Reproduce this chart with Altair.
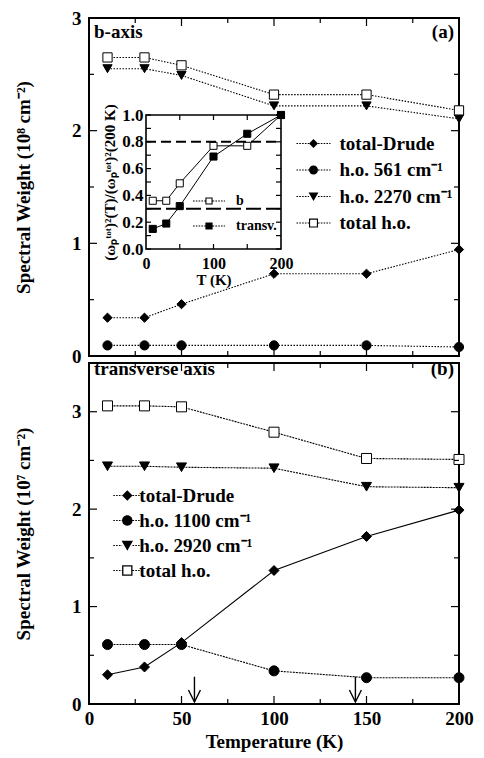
import altair as alt
import pandas as pd

# ---------------- data ----------------
T = [10, 30, 50, 100, 150, 200]

# panel (a): b-axis, 10^8 cm^-2
a_names = ["total-Drude", "h.o. 561 cm⁻¹", "h.o. 2270 cm⁻¹", "total h.o."]
a_total_drude = [0.34, 0.34, 0.46, 0.73, 0.73, 0.945]
a_ho_561 = [0.094, 0.094, 0.094, 0.094, 0.094, 0.08]
a_ho_2270 = [2.55, 2.55, 2.49, 2.22, 2.22, 2.105]
a_total_ho = [2.65, 2.65, 2.58, 2.32, 2.32, 2.18]

# panel (b): transverse axis, 10^7 cm^-2
b_names = ["total-Drude", "h.o. 1100 cm⁻¹", "h.o. 2920 cm⁻¹", "total h.o."]
b_total_drude = [0.30, 0.38, 0.63, 1.37, 1.72, 1.99]
b_ho_1100 = [0.61, 0.61, 0.61, 0.34, 0.27, 0.27]
b_ho_2920 = [2.44, 2.44, 2.43, 2.42, 2.23, 2.22]
b_total_ho = [3.06, 3.06, 3.05, 2.79, 2.52, 2.51]

# inset: normalised plasma frequency squared
i_names = ["b", "transv."]
i_b = [0.36, 0.36, 0.49, 0.77, 0.77, 1.0]
i_transv = [0.15, 0.19, 0.32, 0.69, 0.86, 1.0]
i_levels = [0.8, 0.3]

# arrows in panel (b)
arrow_T = [57, 144]
arrow_top = [0.28, 0.28]
arrow_tip = [0.02, 0.02]

# tick values
x_major = [0, 50, 100, 150, 200]
x_minor = [25, 75, 125, 175]
y_major = [0, 1, 2, 3]
y_minor = [0.5, 1.5, 2.5]
i_y_ticks = [0.0, 0.1, 0.2, 0.3, 0.4, 0.5, 0.6, 0.7, 0.8, 0.9, 1.0]
i_x_ticks = [50, 100, 150]

FONT = "Liberation Serif"
W = 370
HA = 338
HB = 341

dfA = pd.DataFrame({"T": T * 4,
                    "v": a_total_drude + a_ho_561 + a_ho_2270 + a_total_ho,
                    "s": [n for n in a_names for _ in T]})
dfB = pd.DataFrame({"T": T * 4,
                    "v": b_total_drude + b_ho_1100 + b_ho_2920 + b_total_ho,
                    "s": [n for n in b_names for _ in T]})
dfI = pd.DataFrame({"T": T * 2, "v": i_b + i_transv,
                    "s": [n for n in i_names for _ in T]})

marker_shapes = ["diamond", "circle", "triangle-down", "square"]
marker_fills = ["black", "black", "black", "white"]


# ------------- legend symbol paths (line + marker) -------------
def dotted(x0, x1, dash, gap, h):
    out, x = [], x0
    while x < x1 - 1e-6:
        xe = min(x + dash, x1)
        out.append(f"M{x:.3f},{-h:.3f}H{xe:.3f}V{h:.3f}H{x:.3f}Z")
        x += dash + gap
    return "".join(out)


def line_path(L, dash, gap, h, m=1.0):
    return dotted(-L, -m, dash, gap, h) + dotted(m, L, dash, gap, h)


DIAMOND = "M0,-1L1,0L0,1L-1,0Z"
CIRCLE = "M1,0A1,1,0,1,1,-1,0A1,1,0,1,1,1,0Z"
TRI = "M-1.1,-0.9L1.1,-0.9L0,1Z"
SQ_FILLED = "M-1,-1H1V1H-1Z"


def sq_open(t):
    a = 1 - t
    return f"M-1,-1H1V1H-1ZM{-a},{-a}V{a}H{a}V{-a}Z"


def legend_paths(r, L_px, dash_px, gap_px, markers):
    L = L_px / r
    h = 0.55 / r
    ln = line_path(L, dash_px / r, gap_px / r, h)
    return [ln + mk for mk in markers]


def tick_rules(values, axis_ch, start, end):
    """inward frame ticks drawn as short rules between two data positions"""
    df = pd.DataFrame({"t": values})
    m = alt.Chart(df).mark_rule(color="black", strokeWidth=1.2)
    if axis_ch == "y":
        return m.encode(y=alt.Y("t:Q"), x=alt.datum(start), x2=alt.datum(end))
    return m.encode(x=alt.X("t:Q"), y=alt.datum(start), y2=alt.datum(end))


def frame_ticks(xmax, ymax, y_maj, y_min, px_x, px_y, maj=8, mnr=5):
    lays = []
    for vals, L in ((y_maj, maj), (y_min, mnr)):
        lays.append(tick_rules(vals, "y", 0, L * px_x))
        lays.append(tick_rules(vals, "y", xmax, xmax - L * px_x))
    for vals, L in ((x_major, maj), (x_minor, mnr)):
        lays.append(tick_rules(vals, "x", 0, L * px_y))
        lays.append(tick_rules(vals, "x", ymax, ymax - L * px_y))
    return lays


def main_panel(df, names, ymax, H, ytitle, x_axis, dash, legend_cfg, pt_size,
               label, tag, text_dy, extra):
    xs = alt.Scale(domain=[0, 200], nice=False, zero=False)
    ys = alt.Scale(domain=[0, ymax], nice=False, zero=False)
    X = alt.X("T:Q", scale=xs, axis=x_axis)
    Y = alt.Y("v:Q", scale=ys,
              axis=alt.Axis(values=y_major, format="d", ticks=False, domain=False,
                            grid=False, labelFlush=False, labelPadding=8,
                            labelFontSize=19, title=ytitle, titleFontSize=19,
                            titlePadding=38, orient="left"))
    base = alt.Chart(df)
    lines = []
    for n in names:
        d = dash[n]
        mk = base.transform_filter(alt.datum.s == n).mark_line(
            color="black", strokeWidth=1.1, **({"strokeDash": d} if d else {}))
        lines.append(mk.encode(x=X, y=Y))
    pts = base.mark_point(stroke="black", strokeWidth=1, opacity=1, fillOpacity=1,
                          size=pt_size).encode(
        x="T:Q", y="v:Q",
        shape=alt.Shape("s:N", scale=alt.Scale(domain=names, range=marker_shapes), legend=None),
        fill=alt.Fill("s:N", scale=alt.Scale(domain=names, range=marker_fills), legend=None))
    r, L_px, labelOffset, lx, ly, rowpad = legend_cfg
    leg = base.transform_filter("false").mark_point(
        filled=True, color="black", opacity=1, size=(2 * r) ** 2).encode(
        x="T:Q", y="v:Q",
        shape=alt.Shape("s:N", scale=alt.Scale(
            domain=names,
            range=legend_paths(r, L_px, 1.6, 1.2,
                               [DIAMOND, CIRCLE, TRI, sq_open(0.25)])),
            legend=alt.Legend(title=None, orient="none", legendX=lx, legendY=ly,
                              direction="vertical", symbolSize=(2 * r) ** 2,
                              symbolStrokeWidth=0, symbolOpacity=1,
                              symbolFillColor="black", labelFontSize=19,
                              labelOffset=labelOffset, rowPadding=rowpad, padding=0,
                              labelFont=FONT, labelFontWeight="bold",
                              labelColor="black")))
    lab = pd.DataFrame({"t": [label]})
    txt_l = alt.Chart(lab).mark_text(font=FONT, fontSize=19, fontWeight="bold",
                                     align="left", baseline="alphabetic", dx=5,
                                     dy=text_dy, color="black").encode(
        x=alt.datum(0), y=alt.datum(ymax), text="t:N")
    tg = pd.DataFrame({"t": [tag]})
    txt_r = alt.Chart(tg).mark_text(font=FONT, fontSize=19, fontWeight="bold",
                                    align="right", baseline="alphabetic", dx=-5,
                                    dy=text_dy, color="black").encode(
        x=alt.datum(200), y=alt.datum(ymax), text="t:N")
    ticks = frame_ticks(200, ymax, y_major, y_minor, 200 / W, ymax / H)
    layers = lines + [pts, leg, txt_l, txt_r] + ticks + extra
    return alt.layer(*layers).resolve_scale(shape="independent", fill="independent")


# ------------- inset -------------
IX0, IX1, IY0, IY1 = 57, 192, 231, 97
sx_in = alt.Scale(domain=[0, 200], range=[IX0, IX1], nice=False, zero=False)
sy_in = alt.Scale(domain=[0, 1], range=[IY0, IY1], nice=False, zero=False)
iX = alt.X("T:Q", scale=sx_in,
           axis=alt.Axis(orient="bottom", offset=-(HA - IY0), values=[0, 100, 200],
                         ticks=False, domain=False, grid=False, labelFlush=False,
                         labelPadding=6, labelFontSize=16,
                         title="T (K)", titleFontSize=15, titlePadding=1))
iY = alt.Y("v:Q", scale=sy_in,
           axis=alt.Axis(orient="left", offset=-IX0, values=[0, 0.2, 0.4, 0.6, 0.8, 1.0],
                         format=".1f", ticks=False, domain=False, grid=False,
                         labelFlush=False, labelPadding=3, labelFontSize=17,
                         title="(ωₚᵗᵒᵗ)²(T)/(ωₚᵗᵒᵗ)²(200 K)", titleFontSize=15,
                         titlePadding=4))
ibase = alt.Chart(dfI)
i_lines = ibase.mark_line(color="black", strokeWidth=1).encode(x=iX, y=iY, detail="s:N")
i_pts = ibase.mark_point(stroke="black", strokeWidth=1, opacity=1, fillOpacity=1,
                         size=50, shape="square").encode(
    x="T:Q", y="v:Q",
    fill=alt.Fill("s:N", scale=alt.Scale(domain=i_names, range=["white", "black"]),
                  legend=None))
ir = 3.6
i_leg = ibase.transform_filter("false").mark_point(
    filled=True, color="black", opacity=1, size=(2 * ir) ** 2).encode(
    x="T:Q", y="v:Q",
    shape=alt.Shape("s:N", scale=alt.Scale(
        domain=i_names,
        range=legend_paths(ir, 16, 1.6, 1.2, [sq_open(0.3), SQ_FILLED])),
        legend=alt.Legend(title=None, orient="none", legendX=113, legendY=176,
                          direction="vertical", symbolSize=(2 * ir) ** 2,
                          symbolStrokeWidth=0, symbolOpacity=1, symbolFillColor="black",
                          labelFontSize=14, labelOffset=20, rowPadding=11, padding=0,
                          labelFont=FONT, labelFontWeight="bold", labelColor="black")))
i_rules = [
    alt.Chart(pd.DataFrame({"y": [i_levels[0]]})).mark_rule(
        color="black", strokeWidth=2, strokeDash=[10, 5]).encode(
        y="y:Q", x=alt.datum(0), x2=alt.datum(200)),
    alt.Chart(pd.DataFrame({"y": [i_levels[1]]})).mark_rule(
        color="black", strokeWidth=2, strokeDash=[15, 5]).encode(
        y="y:Q", x=alt.datum(0), x2=alt.datum(200)),
]
i_frame = alt.Chart(pd.DataFrame({"a": [0]})).mark_rect(
    fill=None, fillOpacity=0, stroke="black", strokeWidth=1.6).encode(
    x=alt.datum(0), x2=alt.datum(200), y=alt.datum(0), y2=alt.datum(1))
ipx = 200 / (IX1 - IX0)
ipy = 1 / (IY0 - IY1)
i_ticks = [tick_rules(i_y_ticks, "y", 0, 5 * ipx), tick_rules(i_y_ticks, "y", 200, 200 - 5 * ipx),
           tick_rules(i_x_ticks, "x", 0, 5 * ipy), tick_rules(i_x_ticks, "x", 1, 1 - 5 * ipy)]
inset = alt.layer(i_lines, i_pts, i_leg, *i_rules, i_frame, *i_ticks).resolve_scale(
    shape="independent", fill="independent")

# ------------- panels -------------
dashA = {n: [1.5, 1.5] for n in a_names}
dashB = {b_names[0]: None, b_names[1]: [2, 1], b_names[2]: [2, 1], b_names[3]: [2, 1]}

mainA = main_panel(dfA, a_names, 3, HA, "Spectral Weight (10⁸ cm⁻²)", None, dashA,
                   (4.5, 17, 16.5, 215, 116, 6.5), 85, "b-axis", "(a)", 20, [])

arr = pd.DataFrame({"T": arrow_T, "y1": arrow_top, "y2": arrow_tip})
arrows = [
    alt.Chart(arr).mark_rule(color="black", strokeWidth=1.4).encode(
        x="T:Q", y="y1:Q", y2="y2:Q"),
    alt.Chart(arr).mark_point(shape="M-0.5,-1L0,0L0.5,-1", size=576, filled=False,
                              stroke="black", strokeWidth=1.4, opacity=1).encode(
        x="T:Q", y="y2:Q"),
]
xaxB = alt.Axis(values=x_major, ticks=False, domain=False, grid=False, labelFlush=False,
                labelPadding=5, labelFontSize=19, title="Temperature (K)",
                titleFontSize=19, titlePadding=4)
mainB = main_panel(dfB, b_names, 3.5, HB, "Spectral Weight (10⁷ cm⁻²)", xaxB, dashB,
                   (5.2, 14, 2.5, 28.8, 123, 5), 100, "transverse axis", "(b)", 12, arrows)

top = alt.layer(mainA, inset).resolve_scale(
    x="independent", y="independent", shape="independent", fill="independent"
).properties(width=W, height=HA)
bottom = mainB.properties(width=W, height=HB)

chart = alt.vconcat(top, bottom, spacing=7, bounds="flush").resolve_scale(
    shape="independent", fill="independent").properties(
    padding={"left": 5, "right": 0, "top": 0, "bottom": -0.5}, background="white"
).configure(font=FONT).configure_view(stroke="black", strokeWidth=2).configure_axis(
    labelFont=FONT, titleFont=FONT, labelFontWeight="bold", titleFontWeight="bold",
    labelColor="black", titleColor="black"
).configure_legend(labelFont=FONT, labelFontWeight="bold", labelColor="black")

chart.save("out.html", embed_options={"renderer": "svg", "actions": False})
